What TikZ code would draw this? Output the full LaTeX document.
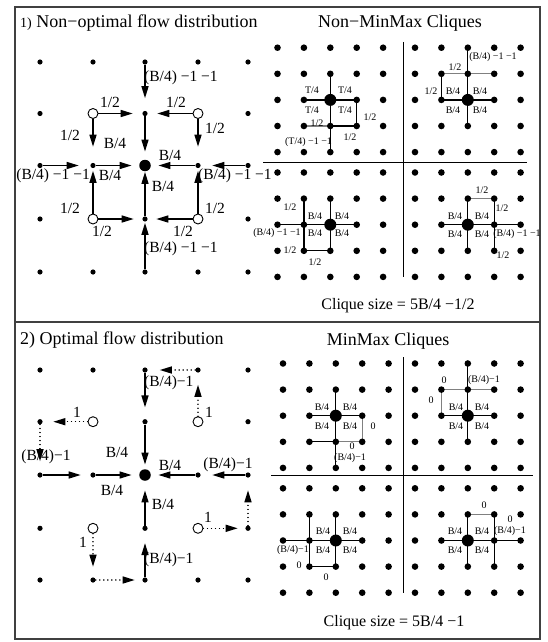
\documentclass[tikz,border=0pt]{standalone}
\usepackage{fontspec}
\setmainfont{Liberation Serif}
\usetikzlibrary{arrows.meta}
\pgfdeclarelayer{back}
\pgfdeclarelayer{bg}
\pgfsetlayers{back,bg,main}
\begin{document}
\begin{tikzpicture}[x=1pt,y=-1pt,
  sdot/.style={circle,fill=black,inner sep=0pt,minimum size=5.2pt},
  bdot/.style={circle,fill=black,inner sep=0pt,minimum size=11.5pt},
  odot/.style={circle,draw=black,fill=white,line width=0.9pt,inner sep=0pt,minimum size=10pt},
  rdot/.style={circle,fill=black,inner sep=0pt,minimum size=6.6pt},
  rbig/.style={circle,fill=black,inner sep=0pt,minimum size=12pt},
  flow/.style={line width=1.4pt,-{Triangle[length=12pt,width=7pt]},shorten >=9pt},
  dflow/.style={flow,line cap=round,dash pattern=on 0.01pt off 4pt},
  lbl/.style={inner sep=0pt,font=\fontsize{15.5}{16}\selectfont},
  slbl/.style={inner sep=0pt,font=\fontsize{10}{11}\selectfont},
  title/.style={inner sep=0pt,font=\fontsize{18}{20}\selectfont},
  edge/.style={line width=1.3pt},
  gedge/.style={line width=1.3pt,black!50},
  frame/.style={line width=1.1pt,black!75},
  sep/.style={line width=1pt,black},
]
\useasboundingbox (0,0) rectangle (548,642);
\begin{pgfonlayer}{back}
\fill[white] (0,0) rectangle (548,642);
\end{pgfonlayer}

% frame
\draw[frame] (15,7) rectangle (540,639);
\draw[frame] (15,322) -- (540,322);

% titles
\node[title,anchor=base west] (t1) at (20,28) {{\fontsize{14}{14}\selectfont 1)} Non−optimal flow distribution};
\node[title,anchor=base] (t2) at (400,28) {Non−MinMax Cliques};
\node[title,anchor=base west] (t3) at (20,344) {2) Optimal flow distribution};
\node[title,anchor=base] (t4) at (388,345) {MinMax Cliques};
\node[lbl,anchor=base,font=\fontsize{16}{18}\selectfont] (cs1) at (398,309) {Clique size = 5B/4 −1/2};
\node[lbl,anchor=base,font=\fontsize{16}{18}\selectfont] (cs2) at (394,626.5) {Clique size = 5B/4 −1};

% ---------- left grids ----------
\foreach \i/\x in {0/40,1/93,2/145,3/198,4/248}{
  \foreach \j/\y in {0/62,1/113.5,2/165.5,3/219,4/272}{
    \node[sdot] (A\i\j) at (\x,\y) {};
  }
  \foreach \j/\y in {0/370,1/421.7,2/475,3/528.3,4/580}{
    \node[sdot] (B\i\j) at (\x,\y) {};
  }
}
\node[bdot] (A22) at (145,165.5) {};
\node[bdot] (B22) at (145,475) {};
\foreach \i/\x in {1/93,3/198}{
  \foreach \j/\y in {1/113.5,3/219}{ \node[odot] (A\i\j) at (\x,\y) {}; }
  \foreach \j/\y in {1/421.7,3/528.3}{ \node[odot] (B\i\j) at (\x,\y) {}; }
}

% top-left flows
\draw[flow,shorten >=12.5pt] (A20) -- (A21);
\draw[flow,shorten >=8pt] (A21) -- (A22);
\draw[flow,shorten >=9.5pt] (A11) -- (A21);
\draw[flow,shorten >=9.5pt] (A31) -- (A21);
\draw[flow,shorten >=16pt] (A11) -- (A12);
\draw[flow,shorten >=16pt] (A31) -- (A32);
\draw[flow,shorten >=11.5pt] (A02) -- (A12);
\draw[flow,shorten >=7.5pt] (A12) -- (A22);
\draw[flow,shorten >=7.5pt] (A32) -- (A22);
\draw[flow,shorten >=11.5pt] (A42) -- (A32);
\draw[flow,shorten >=2.5pt] (A13) -- (A12);
\draw[flow,shorten >=0.5pt] (A23) -- (A22);
\draw[flow,shorten >=2.5pt] (A33) -- (A32);
\draw[flow,shorten >=8.5pt] (A13) -- (A23);
\draw[flow,shorten >=8.5pt] (A33) -- (A23);
\draw[flow,shorten >=1pt] (A24) -- (A23);

% top-left labels
\node[lbl,anchor=west] (la1) at (144,78) {(B/4) −1 −1};
\node[lbl] (la2) at (110,102) {1/2};
\node[lbl] (la3) at (176,102) {1/2};
\node[lbl] (la4) at (70,135) {1/2};
\node[lbl] (la5) at (115,143) {B/4};
\node[lbl] (la6) at (215,128) {1/2};
\node[lbl] (la7) at (170,155) {B/4};
\node[lbl,anchor=east] (la8) at (90,176) {(B/4) −1 −1};
\node[lbl] (la9) at (110,175) {B/4};
\node[lbl,anchor=west] (la10) at (198,176) {(B/4) −1 −1};
\node[lbl] (la11) at (163,186) {B/4};
\node[lbl] (la12) at (70,208) {1/2};
\node[lbl] (la13) at (215,208) {1/2};
\node[lbl] (la14) at (102,231) {1/2};
\node[lbl] (la15) at (183,231) {1/2};
\node[lbl,anchor=west] (la16) at (144,249) {(B/4) −1 −1};

% bottom-left flows
\draw[flow,shorten >=11.5pt] (B20) -- (B21);
\draw[flow,shorten >=4.5pt] (B21) -- (B22);
\draw[dflow,shorten >=12pt] (B30) -- (B20);
\draw[dflow,shorten >=12pt] (B31) -- (B30);
\draw[dflow,shorten >=10.5pt] (B11) -- (B01);
\draw[dflow,shorten >=11pt] (B01) -- (B02);
\draw[flow,shorten >=9.5pt] (B02) -- (B12);
\draw[flow,shorten >=7.5pt] (B12) -- (B22);
\draw[flow,shorten >=7.5pt] (B32) -- (B22);
\draw[flow,shorten >=11.5pt] (B42) -- (B32);
\draw[flow,shorten >=9.5pt] (B23) -- (B22);
\draw[dflow,shorten >=7.5pt] (B33) -- (B43);
\draw[dflow,shorten >=12.5pt] (B43) -- (B42);
\draw[dflow,shorten >=10.5pt] (B13) -- (B14);
\draw[dflow,shorten >=7.5pt] (B14) -- (B24);
\draw[flow,shorten >=12pt] (B24) -- (B23);

% bottom-left labels
\node[lbl,anchor=west] (lb1) at (144,383) {(B/4)−1};
\node[lbl] (lb2) at (209,412) {1};
\node[lbl] (lb3) at (77,412) {1};
\node[lbl] (lb4) at (46,457) {(B/4)−1};
\node[lbl] (lb5) at (117,452) {B/4};
\node[lbl] (lb6) at (170,465) {B/4};
\node[lbl] (lb7) at (228,465) {(B/4)−1};
\node[lbl] (lb8) at (112,490) {B/4};
\node[lbl] (lb9) at (163,504) {B/4};
\node[lbl] (lb10) at (208,517) {1};
\node[lbl] (lb11) at (83,542) {1};
\node[lbl,anchor=west] (lb12) at (144,560) {(B/4)−1};

% ---------- right grids ----------
\draw[sep] (263,162) -- (527,162);
\draw[sep] (403,42) -- (403,277);
\draw[sep] (271,475) -- (533,475);
\draw[sep] (403,357) -- (403,593);

\foreach \q/\xs/\ys in {pa/277.5/47.7, pb/415/47.7, pc/277.5/172.5, pd/415/172.5,
                        qa/283/363.5, qb/415/363.5, qc/283/488.3, qd/415/488.3}{
  \foreach \i in {0,...,4}{
    \foreach \j in {0,...,4}{
      \node[rdot] (\q\i\j) at ({\xs+26.4*\i},{\ys+26.1*\j}) {};
    }
  }
  \node[rbig] (\q22) at ({\xs+52.8},{\ys+52.2}) {};
}

\begin{pgfonlayer}{bg}
% Non-MinMax
\draw[edge] (pa21.center) -- (pa24.center);
\draw[edge] (pa12.center) -- (pa32.center);
\draw[edge] (pa32.center) -- (pa33.center);
\draw[gedge] (pa13.center) -- (pa23.center);
\draw[edge] (pa23.center) -- (pa33.center);
\draw[edge] (pb20.center) -- (pb23.center);
\draw[gedge] (pb11.center) -- (pb31.center);
\draw[edge] (pb11.center) -- (pb12.center);
\draw[edge] (pb12.center) -- (pb32.center);
\draw[edge] (pc11.center) -- (pc13.center);
\draw[edge] (pc21.center) -- (pc23.center);
\draw[edge] (pc02.center) -- (pc32.center);
\draw[edge] (pc13.center) -- (pc23.center);
\draw[edge] (pd12.center) -- (pd42.center);
\draw[edge] (pd21.center) -- (pd23.center);
\draw[edge] (pd31.center) -- (pd33.center);
\draw[gedge] (pd21.center) -- (pd31.center);
% MinMax
\draw[edge] (qa21.center) -- (qa24.center);
\draw[edge] (qa12.center) -- (qa32.center);
\draw[gedge] (qa32.center) -- (qa33.center);
\draw[edge] (qa13.center) -- (qa23.center);
\draw[gedge] (qa23.center) -- (qa33.center);
\draw[edge] (qb20.center) -- (qb23.center);
\draw[gedge] (qb11.center) -- (qb31.center);
\draw[gedge] (qb11.center) -- (qb12.center);
\draw[edge] (qb12.center) -- (qb32.center);
\draw[edge] (qc11.center) -- (qc13.center);
\draw[edge] (qc21.center) -- (qc23.center);
\draw[edge] (qc02.center) -- (qc32.center);
\draw[edge] (qc13.center) -- (qc23.center);
\draw[edge] (qd12.center) -- (qd42.center);
\draw[edge] (qd21.center) -- (qd23.center);
\draw[edge] (qd31.center) -- (qd33.center);
\draw[gedge] (qd21.center) -- (qd31.center);
\end{pgfonlayer}

% Non-MinMax labels
\node[slbl] (pl1) at (312,90) {T/4};
\node[slbl] (pl2) at (345,90) {T/4};
\node[slbl] (pl3) at (312,110) {T/4};
\node[slbl] (pl4) at (345,110) {T/4};
\node[slbl] (pl5) at (370,117) {1/2};
\node[slbl] (pl6) at (317,123) {1/2};
\node[slbl] (pl7) at (350,137) {1/2};
\node[slbl] (pl8) at (308.5,142) {(T/4) −1 −1};
\node[slbl] (pl9) at (493,57) {(B/4) −1 −1};
\node[slbl] (pl10) at (455,67) {1/2};
\node[slbl] (pl11) at (431,91) {1/2};
\node[slbl] (pl12) at (453,91) {B/4};
\node[slbl] (pl13) at (480,91) {B/4};
\node[slbl] (pl14) at (453,110) {B/4};
\node[slbl] (pl15) at (480,110) {B/4};
\node[slbl] (pl16) at (290,207) {1/2};
\node[slbl] (pl17) at (315,216) {B/4};
\node[slbl] (pl18) at (342,216) {B/4};
\node[slbl] (pl19) at (277,233) {(B/4) −1 −1};
\node[slbl] (pl20) at (315,233) {B/4};
\node[slbl] (pl21) at (342,233) {B/4};
\node[slbl] (pl22) at (290,250) {1/2};
\node[slbl] (pl23) at (315,262) {1/2};
\node[slbl] (pl24) at (482,190) {1/2};
\node[slbl] (pl25) at (502,208) {1/2};
\node[slbl] (pl26) at (455,216) {B/4};
\node[slbl] (pl27) at (482,216) {B/4};
\node[slbl] (pl28) at (455,234) {B/4};
\node[slbl] (pl29) at (482,234) {B/4};
\node[slbl] (pl30) at (517,234) {(B/4) −1 −1};
\node[slbl] (pl31) at (503,255) {1/2};

% MinMax labels
\node[slbl] (ql1) at (322,407) {B/4};
\node[slbl] (ql2) at (350,407) {B/4};
\node[slbl] (ql3) at (322,426) {B/4};
\node[slbl] (ql4) at (350,426) {B/4};
\node[slbl] (ql5) at (373,426) {0};
\node[slbl] (ql6) at (352,446) {0};
\node[slbl,anchor=west] (ql7) at (334,458) {(B/4)−1};
\node[slbl] (ql8) at (444,380) {0};
\node[slbl] (ql9) at (484,380) {(B/4)−1};
\node[slbl] (ql10) at (431,400) {0};
\node[slbl] (ql11) at (456,407) {B/4};
\node[slbl] (ql12) at (482,407) {B/4};
\node[slbl] (ql13) at (456,426) {B/4};
\node[slbl] (ql14) at (482,426) {B/4};
\node[slbl] (ql15) at (323,531) {B/4};
\node[slbl] (ql16) at (350,531) {B/4};
\node[slbl] (ql17) at (293,550) {(B/4)−1};
\node[slbl] (ql18) at (323,550) {B/4};
\node[slbl] (ql19) at (350,550) {B/4};
\node[slbl] (ql20) at (299,565) {0};
\node[slbl] (ql21) at (326,577) {0};
\node[slbl] (ql22) at (484,505) {0};
\node[slbl] (ql23) at (510,519) {0};
\node[slbl] (ql24) at (455,531) {B/4};
\node[slbl] (ql25) at (482,531) {B/4};
\node[slbl] (ql26) at (510,531) {(B/4)−1};
\node[slbl] (ql27) at (455,550) {B/4};
\node[slbl] (ql28) at (482,550) {B/4};
\end{tikzpicture}
\end{document}
